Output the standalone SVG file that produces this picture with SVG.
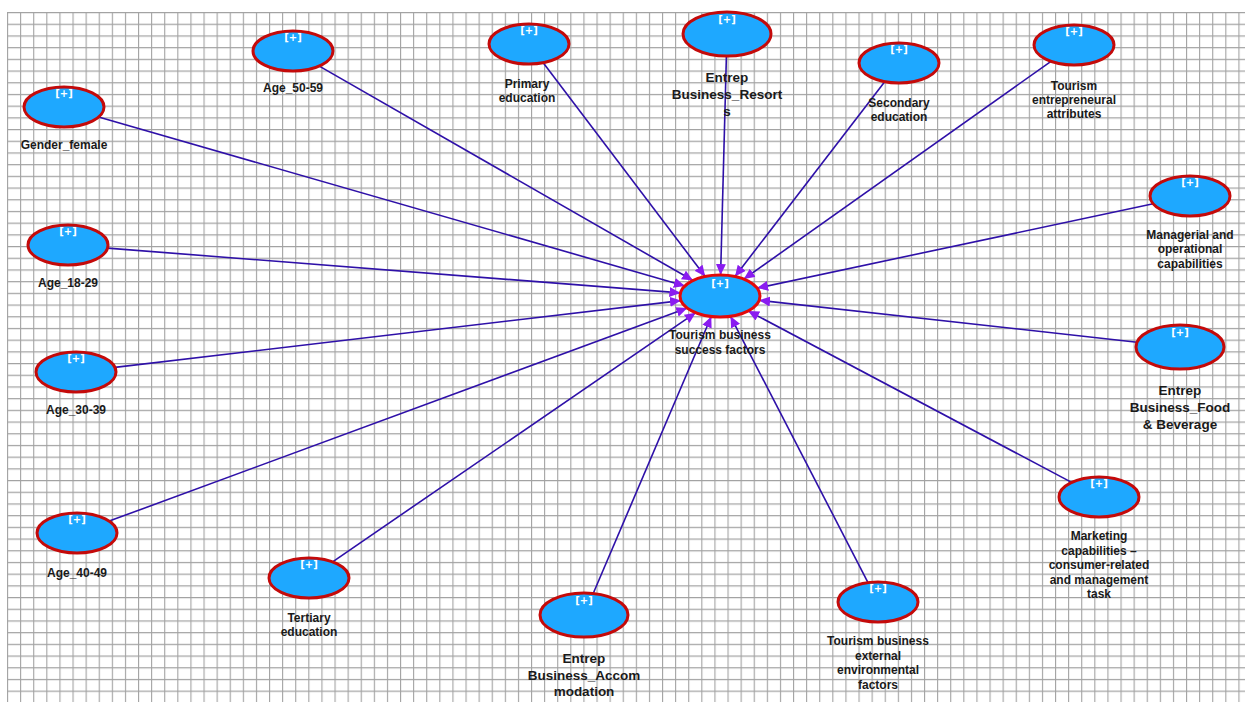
<svg xmlns="http://www.w3.org/2000/svg" width="1245" height="702" viewBox="0 0 1245 702">
<defs>
<pattern id="grid" x="7" y="12" width="13.1" height="11.7" patternUnits="userSpaceOnUse">
<path d="M0.5 0 V11.7 M0 0.5 H13.1" fill="none" stroke="#a2a2a2" stroke-width="1.2"/>
</pattern>
<marker id="arr" markerUnits="userSpaceOnUse" markerWidth="12" markerHeight="10" refX="11" refY="5" orient="auto">
<path d="M0 0 L11 5 L0 10 Z" fill="#8a1cf0"/>
</marker>
<style>
.node ellipse{fill:#1ea8ff;stroke:#c40a0a;stroke-width:3}
#n_center ellipse{stroke:#e20a0a}
.plus{font-family:"DejaVu Sans",sans-serif;font-size:10px;font-weight:bold;fill:#fff;text-anchor:middle}
.lbl{font-family:"Liberation Sans",Arial,sans-serif;font-size:12px;font-weight:700;fill:#1a1a1a;text-anchor:middle}
.big{font-size:13.5px;font-weight:700}
#edges line{stroke:#2e10a8;stroke-width:1.6;marker-end:url(#arr)}
</style>
</defs>
<rect width="1245" height="702" fill="#fff"/>
<rect x="7" y="12" width="1238" height="690" fill="url(#grid)"/>
<g id="edges">
<line x1="98.6" y1="117" x2="684.9" y2="285.9"/>
<line x1="319.3" y1="66.1" x2="693" y2="280.5"/>
<line x1="543.2" y1="62.7" x2="705.2" y2="276.5"/>
<line x1="726.4" y1="56" x2="720.6" y2="275"/>
<line x1="884.7" y1="81.7" x2="735" y2="276.5"/>
<line x1="1051" y1="61.3" x2="743.8" y2="279.1"/>
<line x1="1153.2" y1="203.8" x2="757.1" y2="288.1"/>
<line x1="1137" y1="342.2" x2="759.1" y2="300.3"/>
<line x1="1071.6" y1="482.4" x2="748.1" y2="310.9"/>
<line x1="868" y1="582.6" x2="730.5" y2="316.3"/>
<line x1="593.2" y1="593.5" x2="711.3" y2="316.5"/>
<line x1="332.6" y1="561.8" x2="695.7" y2="312.7"/>
<line x1="109.2" y1="521.1" x2="687.3" y2="308.1"/>
<line x1="114.9" y1="367.4" x2="681" y2="300.6"/>
<line x1="107.5" y1="248.1" x2="680.4" y2="292.9"/>
</g>
<g id="n_center" class="node"><ellipse cx="720" cy="296" rx="40" ry="21"/><text class="plus" x="720" y="287">[+]</text><text class="lbl" x="720" y="339">Tourism business</text><text class="lbl" x="720" y="354">success factors</text></g>
<g id="n_gender" class="node"><ellipse cx="64" cy="107" rx="40" ry="20"/><text class="plus" x="64" y="97">[+]</text><text class="lbl" x="64" y="149">Gender_female</text></g>
<g id="n_age5059" class="node"><ellipse cx="293" cy="51" rx="40" ry="20"/><text class="plus" x="293" y="41">[+]</text><text class="lbl" x="293" y="92">Age_50-59</text></g>
<g id="n_primary" class="node"><ellipse cx="529" cy="44" rx="40" ry="20"/><text class="plus" x="529" y="34">[+]</text><text class="lbl" x="527" y="88">Primary</text><text class="lbl" x="527" y="102">education</text></g>
<g id="n_resorts" class="node"><ellipse cx="727" cy="34" rx="44" ry="22"/><text class="plus" x="727" y="23">[+]</text><text class="lbl big" x="727" y="82">Entrep</text><text class="lbl big" x="727" y="99">Business_Resort</text><text class="lbl big" x="727" y="116">s</text></g>
<g id="n_secondary" class="node"><ellipse cx="899" cy="63" rx="40" ry="20"/><text class="plus" x="899" y="53">[+]</text><text class="lbl" x="899" y="107">Secondary</text><text class="lbl" x="899" y="121">education</text></g>
<g id="n_attr" class="node"><ellipse cx="1074" cy="45" rx="40" ry="20"/><text class="plus" x="1074" y="35">[+]</text><text class="lbl" x="1074" y="90">Tourism</text><text class="lbl" x="1074" y="104">entrepreneural</text><text class="lbl" x="1074" y="118">attributes</text></g>
<g id="n_manag" class="node"><ellipse cx="1190" cy="196" rx="40" ry="20"/><text class="plus" x="1190" y="186">[+]</text><text class="lbl" x="1190" y="239">Managerial and</text><text class="lbl" x="1190" y="253">operational</text><text class="lbl" x="1190" y="268">capabilities</text></g>
<g id="n_food" class="node"><ellipse cx="1180" cy="347" rx="44" ry="22"/><text class="plus" x="1180" y="336">[+]</text><text class="lbl big" x="1180" y="395">Entrep</text><text class="lbl big" x="1180" y="412">Business_Food</text><text class="lbl big" x="1180" y="429">&amp; Beverage</text></g>
<g id="n_market" class="node"><ellipse cx="1099" cy="497" rx="40" ry="20"/><text class="plus" x="1099" y="487">[+]</text><text class="lbl" x="1099" y="540">Marketing</text><text class="lbl" x="1099" y="555">capabilities –</text><text class="lbl" x="1099" y="569">consumer-related</text><text class="lbl" x="1099" y="584">and management</text><text class="lbl" x="1099" y="598">task</text></g>
<g id="n_external" class="node"><ellipse cx="878" cy="602" rx="40" ry="20"/><text class="plus" x="878" y="592">[+]</text><text class="lbl" x="878" y="645">Tourism business</text><text class="lbl" x="878" y="660">external</text><text class="lbl" x="878" y="674">environmental</text><text class="lbl" x="878" y="689">factors</text></g>
<g id="n_accom" class="node"><ellipse cx="584" cy="615" rx="44" ry="22"/><text class="plus" x="584" y="604">[+]</text><text class="lbl big" x="584" y="663">Entrep</text><text class="lbl big" x="584" y="680">Business_Accom</text><text class="lbl big" x="584" y="696">modation</text></g>
<g id="n_tertiary" class="node"><ellipse cx="309" cy="578" rx="40" ry="20"/><text class="plus" x="309" y="568">[+]</text><text class="lbl" x="309" y="622">Tertiary</text><text class="lbl" x="309" y="636">education</text></g>
<g id="n_age4049" class="node"><ellipse cx="77" cy="533" rx="40" ry="20"/><text class="plus" x="77" y="523">[+]</text><text class="lbl" x="77" y="577">Age_40-49</text></g>
<g id="n_age3039" class="node"><ellipse cx="76" cy="372" rx="40" ry="20"/><text class="plus" x="76" y="362">[+]</text><text class="lbl" x="76" y="414">Age_30-39</text></g>
<g id="n_age1829" class="node"><ellipse cx="68" cy="245" rx="40" ry="20"/><text class="plus" x="68" y="235">[+]</text><text class="lbl" x="68" y="287">Age_18-29</text></g>
</svg>
